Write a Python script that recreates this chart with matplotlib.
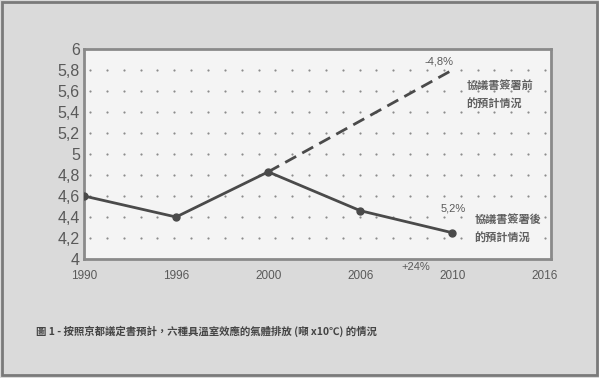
import matplotlib.pyplot as plt
import matplotlib.patches as mpatches
import numpy as np

years = ["1990", "1996", "2000", "2006", "2010", "2016"]
after_vals = [4.6, 4.4, 4.83, 4.46, 4.25]      # 協議書簽署後
before_years = ["2000", "2010"]
before_vals = [4.83, 5.8]                      # 協議書簽署前
yticks = [4.0, 4.2, 4.4, 4.6, 4.8, 5.0, 5.2, 5.4, 5.6, 5.8, 6.0]
ytick_labels = ["4", "4,2", "4,4", "4,6", "4,8", "5", "5,2", "5,4", "5,6", "5,8", "6"]

cjk = ["Noto Sans CJK TC", "DejaVu Sans"]
num_font = "Liberation Sans"
ink = "#4a4a4a"
txt = "#5a5a5a"

fig = plt.figure(figsize=(5.99, 3.78), dpi=100, facecolor="#dadada")
ax = fig.add_axes([0.1402, 0.3148, 0.7796, 0.5556], facecolor="#f4f4f4")

# outer frame of the figure box
fig.patches.append(mpatches.Rectangle((0.004, 0.008), 0.992, 0.988, transform=fig.transFigure,
                                      fill=False, edgecolor="#7a7a7a", linewidth=2))

# dotted grid
gx, gy = np.meshgrid(np.linspace(0.013, 0.987, 28), yticks[1:-1])
ax.scatter(gx.ravel(), gy.ravel(), s=2.5, color="#8c8c8c", transform=ax.get_yaxis_transform(),
           zorder=1, linewidths=0)

x_after = np.arange(len(after_vals))
x_before = [years.index(y) for y in before_years]
ax.plot(x_before, before_vals, color=ink, lw=2, dashes=(4.5, 2.5), zorder=3)
ax.plot(x_after, after_vals, color=ink, lw=2, marker="o", markersize=5, zorder=4)

ax.set_xlim(0, 5.07)
ax.set_ylim(4, 6)
ax.set_xticks(range(len(years)))
ax.set_xticklabels(years, fontsize=8.5, color=txt, family=num_font)
ax.set_yticks(yticks)
ax.set_yticklabels(ytick_labels, fontsize=11.5, color=txt, family=num_font)
ax.tick_params(axis="x", length=0, pad=8)
ax.tick_params(axis="y", length=0, pad=3)
for s in ax.spines.values():
    s.set_color("#8a8a8a")
    s.set_linewidth(2)

# annotations
ax.text(3.85, 5.88, "-4,8%", fontsize=8, color=txt, family=num_font, ha="center", va="center")
ax.text(4.15, 5.56, "協議書簽署前\n的預計情況", fontsize=8, color="#606060", family=cjk,
        weight="bold", ha="left", va="center", linespacing=1.6)
ax.text(4.01, 4.48, "5,2%", fontsize=8, color=txt, family=num_font, ha="center", va="center")
ax.text(4.24, 4.285, "協議書簽署後\n的預計情況", fontsize=8, color="#606060", family=cjk,
        weight="bold", ha="left", va="center", linespacing=1.6)
ax.text(3.6, 3.92, "+24%", fontsize=8, color=txt, family=num_font, ha="center", va="center",
        clip_on=False)

fig.text(0.06, 0.124, "圖 1 - 按照京都議定書預計，六種具溫室效應的氣體排放 (噸 x10℃) 的情況",
         fontsize=7.5, color="#444444", family=cjk, weight="bold", ha="left", va="center")

fig.savefig("out.png", dpi=100, facecolor=fig.get_facecolor())
